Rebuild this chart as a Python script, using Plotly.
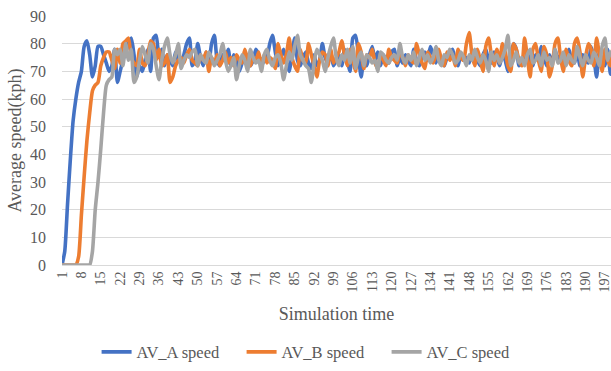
import plotly.graph_objects as go

time_steps = list(range(1, 201))

av_a_speed = [
    0, 5, 22, 38, 52, 60, 66, 70, 79, 81, 76, 68, 72, 79, 79, 76, 73, 70, 72, 78,
    66, 70, 74, 77, 80, 82, 76, 68, 72, 70, 74, 78, 70, 82, 83, 75, 78, 72, 76, 74,
    72, 77, 74, 73, 76, 80, 82, 72, 74, 80, 75, 72, 77, 73, 80, 83, 74, 72, 76, 74,
    78, 72, 76, 74, 70, 73, 77, 75, 72, 74, 78, 76, 72, 74, 75, 80, 83, 77, 72, 75,
    78, 74, 70, 76, 82, 74, 72, 75, 77, 73, 71, 76, 72, 74, 80, 75, 73, 77, 72, 74,
    76, 72, 78, 74, 70, 82, 83, 76, 68, 74, 72, 76, 79, 74, 77, 72, 76, 74, 73, 77,
    78, 72, 75, 73, 76, 74, 72, 78, 74, 72, 75, 77, 74, 79, 76, 73, 77, 74, 72, 75,
    76, 78, 74, 72, 76, 74, 75, 73, 77, 76, 74, 72, 76, 78, 74, 73, 77, 75, 72, 76,
    74, 70, 76, 80, 78, 72, 75, 73, 77, 74, 72, 76, 74, 79, 75, 72, 76, 73, 78, 74,
    76, 72, 75, 78, 74, 73, 77, 72, 76, 74, 73, 79, 75, 68, 77, 74, 72, 78, 69, 77,
]

av_b_speed = [
    0, 0, 0, 0, 0, 0, 3, 18, 32, 45, 55, 63, 65, 66, 72, 75, 77, 77, 74, 71,
    78, 73, 80, 81, 82, 75, 73, 72, 78, 73, 72, 76, 81, 80, 74, 78, 72, 73, 76, 66,
    68, 72, 74, 75, 73, 76, 78, 74, 73, 72, 76, 74, 77, 70, 75, 73, 76, 72, 74, 77,
    73, 75, 72, 76, 74, 73, 78, 74, 72, 75, 74, 77, 72, 76, 73, 75, 74, 71, 80, 76,
    73, 76, 82, 75, 72, 70, 78, 74, 73, 80, 76, 72, 68, 74, 77, 76, 72, 78, 73, 75,
    77, 81, 76, 72, 78, 74, 70, 80, 77, 71, 76, 75, 78, 73, 71, 76, 74, 72, 78, 75,
    74, 73, 77, 75, 72, 76, 74, 73, 80, 76, 73, 71, 77, 75, 73, 76, 78, 74, 72, 77,
    74, 76, 72, 78, 75, 74, 80, 84, 76, 72, 78, 74, 70, 79, 82, 76, 72, 78, 73, 80,
    77, 72, 70, 80, 78, 74, 72, 82, 75, 68, 78, 80, 74, 70, 79, 76, 68, 72, 80, 82,
    75, 70, 78, 74, 72, 80, 82, 77, 68, 75, 80, 78, 72, 82, 76, 70, 78, 74, 72, 80,
]

av_c_speed = [
    0, 0, 0, 0, 0, 0, 0, 0, 0, 0, 0, 5, 20, 30, 42, 55, 65, 67, 68, 78,
    76, 78, 72, 80, 74, 78, 66, 68, 74, 79, 76, 73, 80, 78, 72, 67, 74, 79, 82, 76,
    73, 76, 80, 71, 74, 76, 75, 77, 78, 72, 76, 74, 73, 77, 75, 72, 74, 76, 80, 74,
    70, 72, 75, 67, 72, 76, 74, 70, 78, 75, 73, 74, 70, 76, 78, 74, 72, 75, 76, 73,
    67, 72, 77, 74, 79, 83, 76, 74, 72, 71, 66, 73, 78, 76, 74, 70, 75, 79, 82, 75,
    72, 76, 74, 78, 73, 79, 71, 75, 77, 72, 76, 75, 73, 74, 70, 77, 76, 74, 73, 75,
    76, 74, 80, 75, 73, 76, 74, 77, 72, 75, 78, 74, 76, 73, 75, 79, 74, 72, 76, 75,
    78, 76, 73, 74, 77, 75, 72, 76, 74, 78, 75, 73, 76, 74, 70, 77, 74, 76, 73, 75,
    78, 83, 72, 74, 77, 73, 75, 72, 76, 78, 73, 74, 76, 72, 77, 74, 75, 72, 78, 73,
    74, 77, 72, 76, 74, 73, 79, 75, 72, 76, 74, 73, 77, 75, 72, 79, 82, 74, 77, 75,
]

x_tick_values = list(range(1, 201, 7))
x_tick_labels = [str(v) for v in x_tick_values]
y_tick_values = list(range(0, 100, 10))

series_names = ["AV_A speed", "AV_B speed", "AV_C speed"]
series_colors = ["#4472C4", "#ED7D31", "#A5A5A5"]
series_values = [av_a_speed, av_b_speed, av_c_speed]

FONT = "Liberation Serif"
GREY = "#595959"

fig = go.Figure()
for name, color, vals in zip(series_names, series_colors, series_values):
    fig.add_trace(go.Scatter(
        x=time_steps, y=vals, mode="lines", name=name,
        line=dict(color=color, width=3.6, shape="spline", smoothing=0.6),
    ))

fig.update_layout(
    width=611, height=371,
    margin=dict(l=62, r=0, t=16, b=106, autoexpand=False),
    paper_bgcolor="white", plot_bgcolor="white",
    font=dict(family=FONT, color=GREY),
    showlegend=True,
    legend=dict(
        orientation="h", x=0.063, xref="paper", xanchor="left",
        y=-0.35, yanchor="middle",
        font=dict(family=FONT, size=16.5, color=GREY),
        entrywidth=100, entrywidthmode="pixels",
    ),
    xaxis=dict(
        range=[1, 199.2], tickmode="array", tickvals=x_tick_values, ticktext=x_tick_labels,
        tickangle=-90, tickfont=dict(family=FONT, size=14, color=GREY),
        ticklabeloverflow="allow",
        showgrid=False, showline=True, linecolor="#D9D9D9", linewidth=1,
        ticks="", zeroline=False, automargin=False,
        title=dict(text="Simulation time", font=dict(family=FONT, size=18, color=GREY), standoff=15),
    ),
    yaxis=dict(
        range=[0, 90], tickmode="array", tickvals=y_tick_values,
        tickfont=dict(family=FONT, size=16, color=GREY),
        ticklabelstandoff=15,
        showgrid=True, gridcolor="#D9D9D9", gridwidth=1, zeroline=False,
        showline=False, ticks="", automargin=False,
        title=dict(text="Average speed(kph)", font=dict(family=FONT, size=18, color=GREY), standoff=3),
    ),
)

fig.write_html("out.html")
